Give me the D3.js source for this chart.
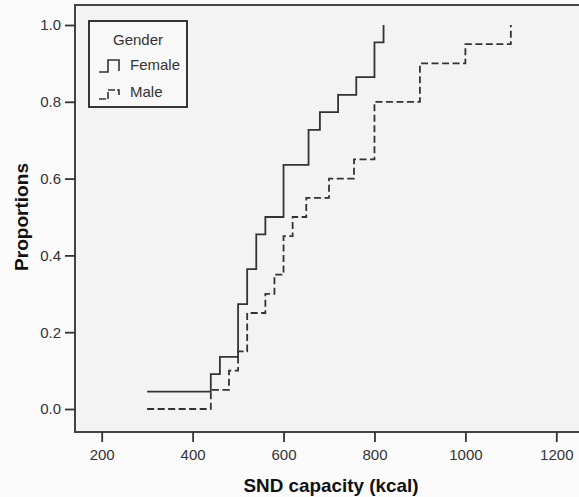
<!DOCTYPE html>
<html>
<head>
<meta charset="utf-8">
<script src="https://cdn.jsdelivr.net/npm/d3@7"></script>
<style>
  body { margin: 0; background: #fbfbfb; }
  svg { display: block; font-family: "Liberation Sans", Arial, sans-serif; }
</style>
</head>
<body>
<svg id="chart"></svg>
<script>
// capacity (kcal) where each step starts, and the proportion it steps to
const femaleKcal = [300, 440, 460, 500, 520, 540, 560, 600, 655, 680, 720, 760, 800, 820];
const femaleProp = [0.045, 0.091, 0.136, 0.273, 0.364, 0.455, 0.5, 0.636, 0.727, 0.773, 0.818, 0.864, 0.955, 1.0];
const maleKcal = [300, 440, 480, 500, 520, 560, 580, 600, 620, 650, 700, 755, 800, 900, 1000, 1100];
const maleProp = [0, 0.05, 0.1, 0.15, 0.25, 0.3, 0.35, 0.45, 0.5, 0.55, 0.6, 0.65, 0.8, 0.9, 0.95, 1.0];
const xTicks = [200, 400, 600, 800, 1000, 1200];
const yTicks = [0, 0.2, 0.4, 0.6, 0.8, 1.0];
const groups = ['Female', 'Male'];

const width = 579;
const height = 497;
const frame = {left: 75, top: 5, right: 600, bottom: 432};

const x = d3.scaleLinear().domain([200, 1200]).range([101.7, 556.3]);
const y = d3.scaleLinear().domain([0, 1]).range([409, 25]);

const svg = d3.select('#chart').attr('width', width).attr('height', height);

svg.append('rect')
  .attr('x', frame.left).attr('y', frame.top)
  .attr('width', frame.right - frame.left).attr('height', frame.bottom - frame.top)
  .attr('fill', '#f3f3f3');

const series = [
  {name: 'Female', pts: femaleKcal.map((k, i) => [k, femaleProp[i]]), dash: null},
  {name: 'Male', pts: maleKcal.map((k, i) => [k, maleProp[i]]), dash: '7,3.5'}
];

const line = d3.line()
  .curve(d3.curveStepAfter)
  .x(d => x(d[0]))
  .y(d => y(d[1]));

svg.append('g')
  .attr('fill', 'none')
  .attr('stroke', '#333')
  .attr('stroke-width', 1.8)
  .selectAll('path')
  .data(series)
  .join('path')
  .attr('stroke-dasharray', d => d.dash)
  .attr('d', d => line(d.pts));

// frame lines (top, left, bottom)
svg.append('path')
  .attr('d', `M${frame.right},${frame.top}H${frame.left}V${frame.bottom}H${frame.right}`)
  .attr('fill', 'none')
  .attr('stroke', '#444')
  .attr('stroke-width', 2);

function styleAxis(g) {
  g.select('.domain').remove();
  g.selectAll('.tick line').attr('stroke', '#333').attr('stroke-width', 1.8);
  g.selectAll('.tick text')
    .attr('fill', '#333')
    .style('font-size', '15px')
    .style('font-family', '"Liberation Sans", Arial, sans-serif');
}

svg.append('g')
  .attr('transform', `translate(${frame.left},0)`)
  .call(d3.axisLeft(y).tickValues(yTicks).tickFormat(d3.format('.1f')).tickSize(10).tickPadding(4))
  .call(styleAxis);

svg.append('g')
  .attr('transform', `translate(0,${frame.bottom})`)
  .call(d3.axisBottom(x).tickValues(xTicks).tickFormat(d3.format('d')).tickSize(10).tickPadding(7))
  .call(styleAxis);

svg.append('text')
  .attr('x', 331).attr('y', 492)
  .attr('text-anchor', 'middle')
  .attr('font-weight', 'bold')
  .attr('font-size', 19)
  .attr('textLength', 175)
  .attr('lengthAdjust', 'spacingAndGlyphs')
  .attr('fill', '#111')
  .text('SND capacity (kcal)');

svg.append('text')
  .attr('transform', 'translate(28,217) rotate(-90)')
  .attr('text-anchor', 'middle')
  .attr('font-weight', 'bold')
  .attr('font-size', 18)
  .attr('textLength', 108)
  .attr('lengthAdjust', 'spacingAndGlyphs')
  .attr('fill', '#111')
  .text('Proportions');

// legend
const legend = svg.append('g').attr('transform', 'translate(89,21)');
legend.append('rect')
  .attr('width', 98).attr('height', 86)
  .attr('fill', '#f8f8f8')
  .attr('stroke', '#222')
  .attr('stroke-width', 1.8);
legend.append('text')
  .attr('x', 49).attr('y', 24)
  .attr('text-anchor', 'middle')
  .attr('font-size', 15)
  .attr('fill', '#333')
  .text('Gender');

const sym = d3.line();
const item = legend.selectAll('g.item')
  .data(groups)
  .join('g')
  .attr('class', 'item')
  .attr('transform', (d, i) => `translate(0,${49 + i * 27})`);
item.append('path')
  .attr('fill', 'none')
  .attr('stroke', '#333')
  .attr('stroke-width', 1.6)
  .attr('stroke-dasharray', (d, i) => i ? '7,2' : null)
  .attr('d', (d, i) => i
    ? sym([[10, 2], [19, 2], [19, -7], [30, -7], [30, -1]])
    : sym([[10, 2], [19, 2], [19, -10], [30, -10], [30, 1]]));
item.append('text')
  .attr('x', 41).attr('y', 0)
  .attr('font-size', 15)
  .attr('fill', '#333')
  .text(d => d);
</script>
</body>
</html>
